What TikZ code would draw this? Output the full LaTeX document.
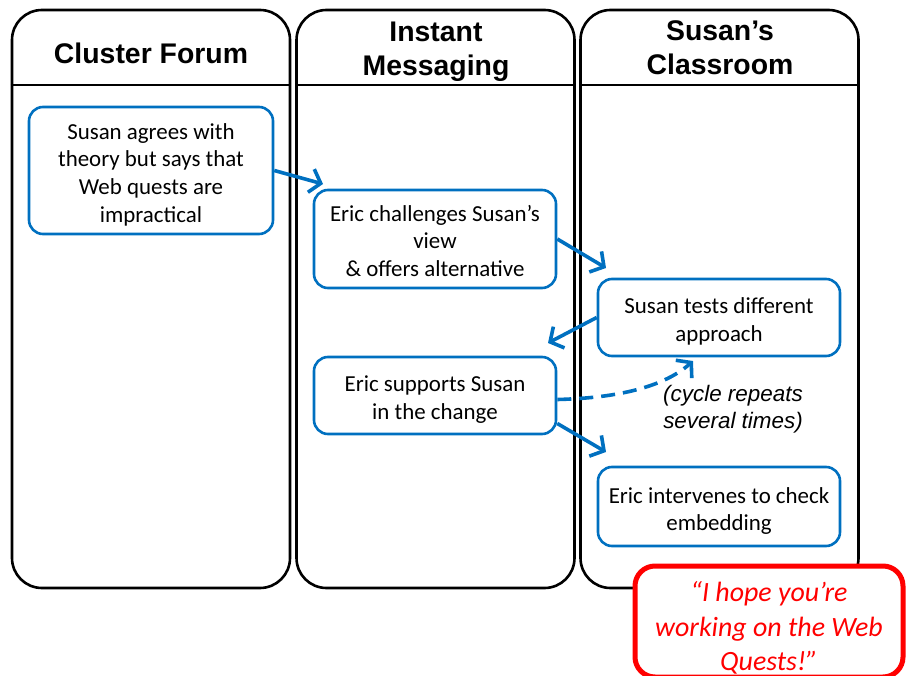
\documentclass[tikz,border=0pt]{standalone}
\usepackage{fontspec}
\setmainfont{Carlito}
\newfontfamily\headfont{Liberation Sans}
\usetikzlibrary{arrows.meta,calc}
\definecolor{flowblue}{HTML}{0070C0}
\definecolor{quotered}{HTML}{FF0000}
% extra headroom above the first line of a box
\newcommand\boxlift[1]{\rule{0pt}{#1}}

\begin{document}
\begin{tikzpicture}[x=1bp,y=-1bp,
  lane/.style={draw=black, line width=2.6bp, rounded corners=30bp,
    minimum width=278bp, minimum height=578bp, inner sep=0pt},
  headtext/.style={font=\headfont\bfseries\fontsize{28.5}{34}\selectfont,
    align=center, inner sep=0pt},
  stepbox/.style={draw=flowblue, line width=2.6bp, rounded corners=14bp,
    fill=white, align=center, inner sep=0pt,
    font=\fontsize{23}{27.7}\selectfont},
  flow/.style={draw=flowblue, line width=3.6bp,
    -{Straight Barb[length=10bp,width=24bp,line width=3.6bp]}},
  note/.style={font=\headfont\itshape\fontsize{22.5}{27}\selectfont,
    align=center, inner sep=0pt},
  quote/.style={draw=quotered, line width=5bp, rounded corners=20bp,
    fill=white, text=quotered, align=center, inner sep=0pt,
    font=\itshape\fontsize{28}{34.5}\selectfont}
]
\useasboundingbox (0,0) rectangle (906,676);
\clip (0,0) rectangle (906,676);

% swim lanes
\node[lane] (lane1) at (151,299) {};
\node[lane] (lane2) at (435.5,299) {};
\node[lane] (lane3) at (719.5,299) {};
\foreach \l in {lane1,lane2,lane3}
  \draw[line width=2bp] (\l.west |- 0,85) -- (\l.east |- 0,85);

% lane headings
\node[headtext] (h1) at (151,53) {Cluster Forum};
\node[headtext] (h2) at (436,52) {Instant\\Messaging};
\node[headtext] (h3) at (720,48) {Susan’s\\Classroom};

% steps
\node[stepbox, minimum width=244bp, minimum height=127bp] (B1) at (151,170.5)
  {\boxlift{24bp}Susan agrees with\\theory but says that\\Web quests are\\impractical};
\node[stepbox, minimum width=242bp, minimum height=98bp] (B2) at (435,239)
  {\boxlift{20bp}Eric challenges Susan’s\\view\\\& offers alternative};
\node[stepbox, minimum width=242bp, minimum height=77bp] (B3) at (719,317.5)
  {\boxlift{24bp}Susan tests different\\approach};
\node[stepbox, minimum width=242bp, minimum height=77bp] (B4) at (435,395.5)
  {\boxlift{24bp}Eric supports Susan\\in the change};
\node[stepbox, minimum width=242bp, minimum height=79bp] (B5) at (719,506.5)
  {\boxlift{25bp}Eric intervenes to check\\embedding};

\node[note] (cyc) at (733,409) {(cycle repeats\\several times)};

% connectors
\coordinate (a1) at (323,184);
\coordinate (a2) at (606,268);
\coordinate (a3) at (548,343);
\coordinate (a4) at (606,452);
\coordinate (a5) at (693,361);
\draw[flow] (B1.east) -- (a1);
\draw[flow] (B2.east) -- (a2);
\draw[flow] (B3.west) -- (a3);
\draw[flow] ($(B4.east)+(0,28)$) -- (a4);
\draw[flow, dash pattern=on 14bp off 8bp]
  ($(B4.east)+(0,4)$) .. controls (620,398) and (665,386) .. (a5);

% teacher's remark
\node[quote, minimum width=268bp, minimum height=111bp] (q) at (769,621.5)
  {\boxlift{33bp}“I hope you’re\\working on the Web\\Quests!”};
\end{tikzpicture}
\end{document}
